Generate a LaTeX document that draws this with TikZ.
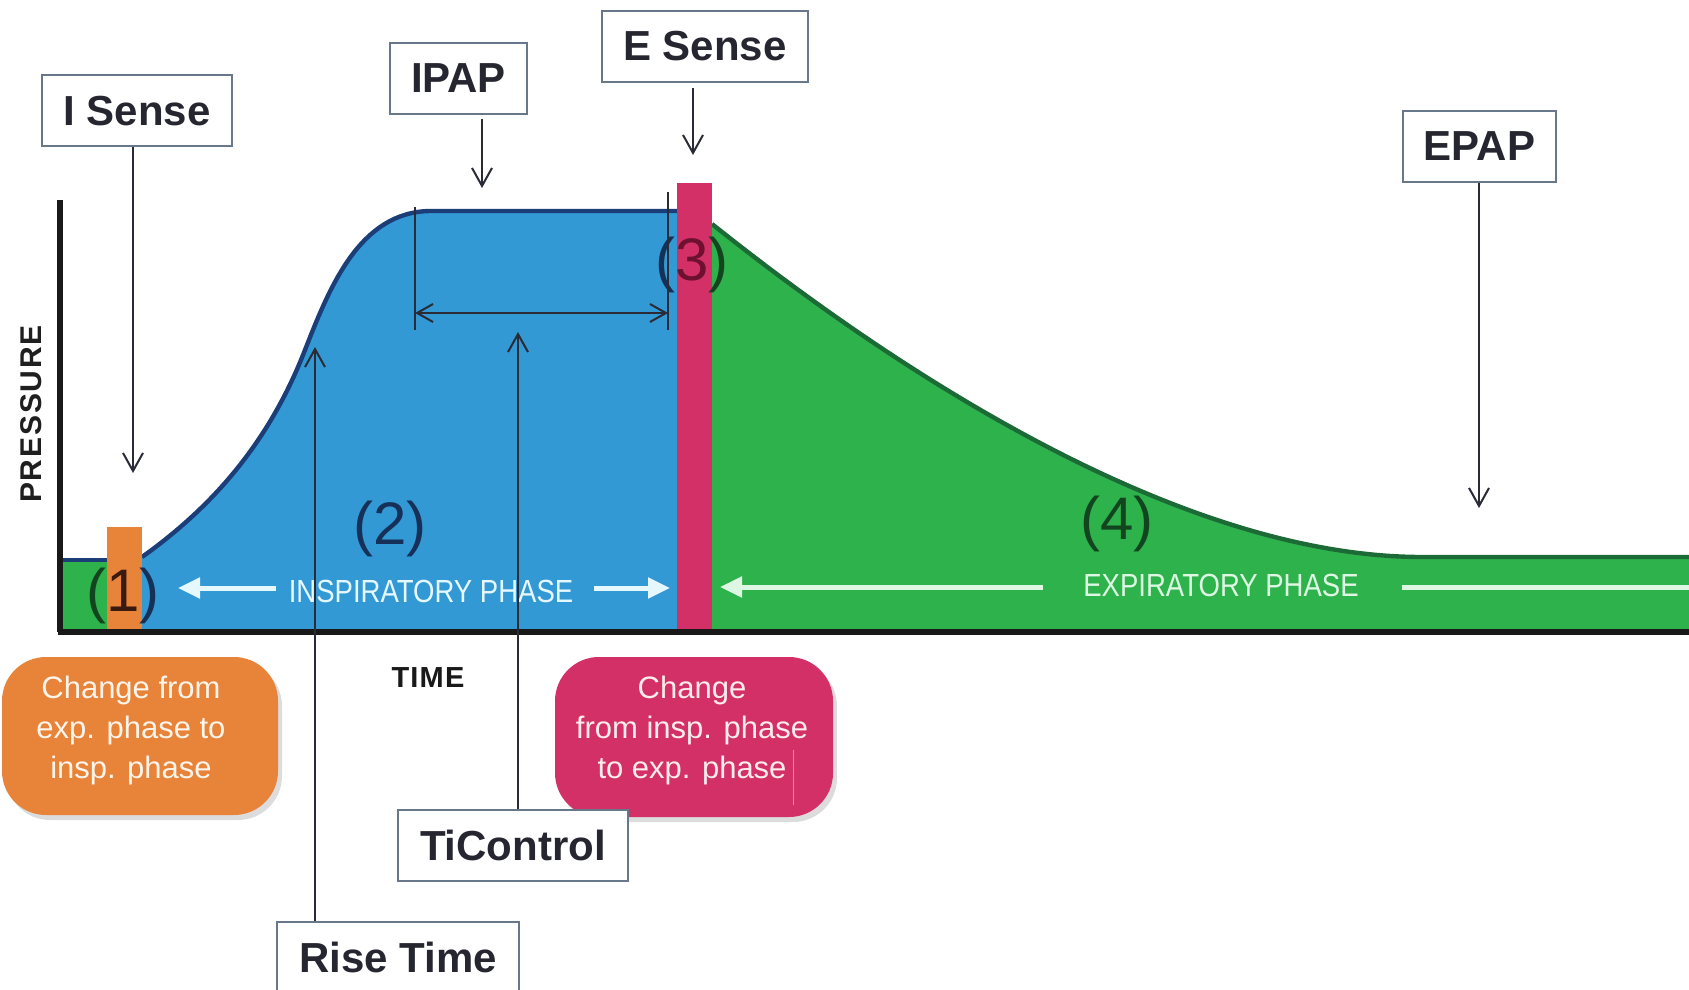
\documentclass[tikz,border=0pt]{standalone}
\usepackage{fontspec}
\setmainfont{Liberation Sans}
\newfontfamily\condfont[FakeStretch=0.86]{Liberation Sans}
\usetikzlibrary{arrows.meta,shadows}
\definecolor{bluefill}{HTML}{3399D5}
\definecolor{blueline}{HTML}{1B3E78}
\definecolor{greenfill}{HTML}{2EB24C}
\definecolor{greenline}{HTML}{1C6A36}
\definecolor{orangec}{HTML}{E8833A}
\definecolor{pinkc}{HTML}{D33068}
\definecolor{boxc}{HTML}{68788A}
\definecolor{txtc}{HTML}{262630}
\definecolor{arrc}{HTML}{2B2B38}
\definecolor{phasec}{HTML}{E6F8FF}
\definecolor{phaseg}{HTML}{DDF7E2}
\definecolor{navyt}{HTML}{173058}
\definecolor{dgreent}{HTML}{12451F}
\definecolor{redt}{HTML}{6E1030}
\definecolor{brownt}{HTML}{3A1A0E}
\begin{document}
\begin{tikzpicture}[x={(0.5pt,0pt)},y={(0pt,-0.5pt)},
 lbl/.style={draw=boxc,line width=1pt,fill=white,inner sep=0pt,minimum height=35.5pt,text=txtc,font=\bfseries\fontsize{21}{25}\selectfont},
 conn/.style={draw=arrc,line width=1pt,-{Straight Barb[length=9pt,width=10pt]}},
 tickline/.style={draw=arrc,line width=1pt},
 callout/.style={rounded corners=22pt,inner sep=0pt,drop shadow={shadow xshift=2pt,shadow yshift=-2.5pt,opacity=0.28}},
 callt/.style={align=center,font=\fontsize{15.5}{20}\selectfont},
 phar/.style={line width=2.5pt,-{Triangle[length=11pt,width=10pt]}},
 phtext/.style={font=\condfont\fontsize{16}{16}\selectfont},
 num/.style={font=\fontsize{30}{30}\selectfont}
]
\useasboundingbox (0,0) rectangle (1689,989);

% --- filled regions
\fill[greenfill] (62,560) rectangle (107,632);
\fill[bluefill] (142,632) -- (142,557) .. controls (215,505) and (270,440) .. (305,350) .. controls (330,286) and (360,212) .. (430,211) -- (677,211) -- (677,632) -- cycle;
\fill[greenfill] (712,632) -- (712,224) .. controls (900,374) and (1180,556) .. (1420,557) -- (1689,557) -- (1689,632) -- cycle;

% --- curve outlines
\draw[blueline,line width=2pt] (62,560) -- (107,560);
\draw[blueline,line width=2.2pt] (142,557) .. controls (215,505) and (270,440) .. (305,350) .. controls (330,286) and (360,212) .. (430,211) -- (677,211);
\draw[greenline,line width=2.2pt] (712,224) .. controls (900,374) and (1180,556) .. (1420,557) -- (1689,557);

% --- phase change bars
\fill[orangec] (107,527) rectangle (142,632);
\fill[pinkc] (677,183) rectangle (712,632);

% --- axes
\draw[black!90,line width=3pt] (60,200) -- (60,632);
\draw[black!90,line width=3pt] (58,632) -- (1689,632);

% --- numbers
\node[num] (n1) at (123,596) {\textcolor{dgreent}{(}\textcolor{brownt}{1}\textcolor{navyt}{)}};
\node[num,text=navyt] (n2) at (390,529) {(2)};
\node[num] (n3) at (692,265) {\textcolor{navyt}{(}\textcolor{redt}{3}\textcolor{dgreent}{)}};
\node[num,text=dgreent] (n4) at (1117,524) {(4)};

% --- phase labels
\node[phtext,text=phasec] (insp) at (431,591) {INSPIRATORY PHASE};
\draw[phar,draw=phasec,fill=phasec] (276,588) -- (178,588);
\draw[phar,draw=phasec,fill=phasec] (594,588) -- (670,588);
\node[phtext,text=phaseg] (expi) at (1221,585) {EXPIRATORY PHASE};
\draw[phar,draw=phaseg,fill=phaseg] (1043,587) -- (720,587);
\draw[draw=phaseg,line width=2.5pt] (1402,587) -- (1689,587);

% --- axis titles
\node[rotate=90,text=black!88,font=\bfseries\addfontfeature{LetterSpace=6}\fontsize{15}{15}\selectfont] (pres) at (31,414) {PRESSURE};
\node[text=black!90,font=\bfseries\addfontfeature{LetterSpace=4}\fontsize{14.5}{15}\selectfont] (time) at (428,678) {TIME};

% --- callouts
\node[callout,fill=orangec,minimum width=138pt,minimum height=79pt] (cexp) at (140,736) {};
\node[callt,text=orange!8] at (131,730) {Change from\\exp. phase to\\insp. phase};
\node[callout,fill=pinkc,minimum width=139pt,minimum height=80pt] (cinsp) at (694,737) {};
\node[callt,text=pink!30] at (692,730) {Change\\from insp. phase\\to exp. phase};
\draw[gray!70,line width=0.5pt] (793,750) -- (793,805);

% --- TiControl dimension
\draw[tickline] (415,207) -- (415,330);
\draw[tickline] (668,192) -- (668,330);
\draw[draw=arrc,line width=1pt,{Straight Barb[length=8pt,width=9pt]}-{Straight Barb[length=8pt,width=9pt]}] (415,313) -- (668,313);

% --- label boxes
\node[lbl,minimum width=95pt] (isense) at (137,111) {I Sense};
\node[lbl,minimum width=68.5pt] (ipap) at (458.5,78.5) {IPAP};
\node[lbl,minimum width=103pt] (esense) at (705,46.5) {E Sense};
\node[lbl,minimum width=76.5pt] (epap) at (1479.5,146.5) {EPAP};
\node[lbl,minimum width=115pt] (ticontrol) at (513,845.5) {TiControl};
\node[lbl,minimum width=121pt] (rise) at (398,957.5) {Rise Time};

% --- arrow targets
\coordinate (isT) at (133,473);
\coordinate (ipT) at (482,188);
\coordinate (esT) at (693,155);
\coordinate (epT) at (1479,508);
\coordinate (tiT) at (518,332);
\coordinate (riT) at (315,347);

\draw[conn] (isense.south -| isT) -- (isT);
\draw[conn,shorten <=2pt] (ipap.south -| ipT) -- (ipT);
\draw[conn,shorten <=2.5pt] (esense.south -| esT) -- (esT);
\draw[conn] (epap.south -| epT) -- (epT);
\draw[conn] (ticontrol.north -| tiT) -- (tiT);
\draw[conn] (rise.north -| riT) -- (riT);
\end{tikzpicture}
\end{document}
